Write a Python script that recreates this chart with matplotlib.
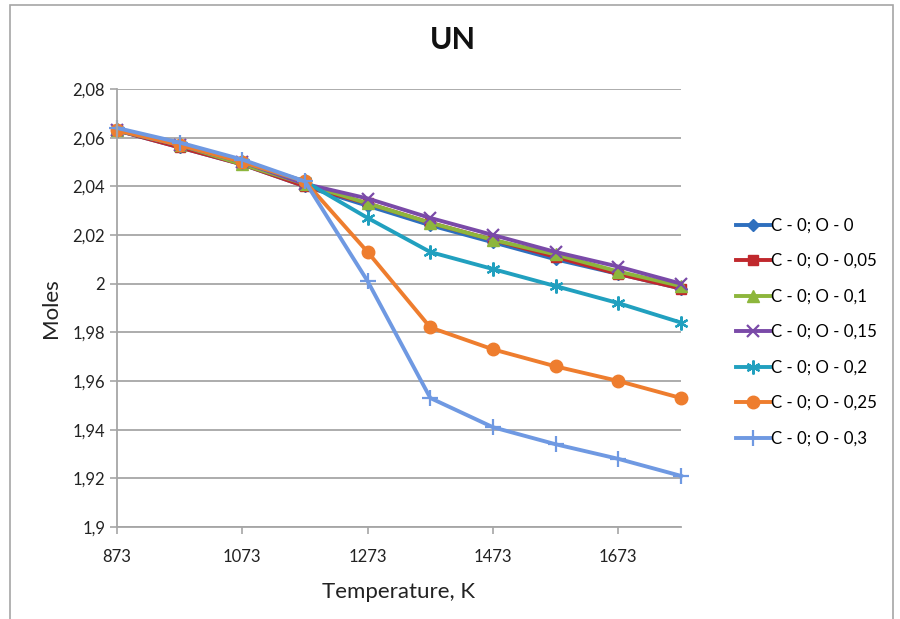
import matplotlib
matplotlib.use("Agg")
from matplotlib import pyplot as plt
from matplotlib.patches import Rectangle
from matplotlib.ticker import FuncFormatter, MultipleLocator

temps = [873, 973, 1073, 1173, 1273, 1373, 1473, 1573, 1673, 1773]

o_0 = [2.063, 2.056, 2.049, 2.040, 2.032, 2.024, 2.017, 2.010, 2.004, 1.998]
o_005 = [2.063, 2.056, 2.049, 2.040, 2.033, 2.025, 2.018, 2.011, 2.004, 1.998]
o_01 = [2.063, 2.057, 2.049, 2.041, 2.033, 2.025, 2.018, 2.012, 2.005, 1.999]
o_015 = [2.063, 2.057, 2.050, 2.041, 2.035, 2.027, 2.020, 2.013, 2.007, 2.000]
o_02 = [2.063, 2.057, 2.050, 2.042, 2.027, 2.013, 2.006, 1.999, 1.992, 1.984]
o_025 = [2.063, 2.057, 2.050, 2.042, 2.013, 1.982, 1.973, 1.966, 1.960, 1.953]
o_03 = [2.064, 2.058, 2.051, 2.042, 2.001, 1.953, 1.941, 1.934, 1.928, 1.921]

labels = ["C - 0; O - 0", "C - 0; O - 0,05", "C - 0; O - 0,1", "C - 0; O - 0,15",
          "C - 0; O - 0,2", "C - 0; O - 0,25", "C - 0; O - 0,3"]

series = [o_0, o_005, o_01, o_015, o_02, o_025, o_03]
colors = ["#2E6FBE", "#C0282D", "#8DB63C", "#7A4AA8", "#21A0BF", "#EE7D2E", "#6F99E2"]
markers = ["D", "s", "^", "x", (6, 2, 0), "o", "+"]
msizes = [6, 7, 8, 8, 10, 9, 11]

plt.rcParams['font.family'] = ['Lato', 'DejaVu Sans']

fig = plt.figure(figsize=(9, 6.19), dpi=100)
fig.patches.append(Rectangle((10 / 900, -0.01), 883 / 900, 1 - 5 / 619 + 0.01,
                             transform=fig.transFigure, fill=False,
                             edgecolor="#A6A6A6", linewidth=1.2))

ax = fig.add_axes([117 / 900, 1 - 527 / 619, (681 - 117) / 900, (527 - 89) / 619])

for ys, lab, c, m, ms in zip(series, labels, colors, markers, msizes):
    ax.plot(temps, ys, color=c, linewidth=2.8, marker=m, markersize=ms,
            markeredgewidth=1.6 if m in ("x", "+") or isinstance(m, tuple) else 1,
            label=lab, clip_on=False)

ax.set_xlim(873, 1773)
ax.set_ylim(1.9, 2.08)
ax.set_xticks([873, 1073, 1273, 1473, 1673])
ax.yaxis.set_major_locator(MultipleLocator(0.02))


def comma_fmt(v, pos):
    s = f"{v:.2f}".rstrip("0").rstrip(".")
    return s.replace(".", ",")


ax.yaxis.set_major_formatter(FuncFormatter(comma_fmt))
ax.grid(axis="y", color="#A6A6A6", linewidth=1.3)
ax.set_axisbelow(True)
for side in ("top", "right"):
    ax.spines[side].set_visible(False)
for side in ("left", "bottom"):
    ax.spines[side].set_color("#A6A6A6")
    ax.spines[side].set_linewidth(1.3)
ax.tick_params(axis="both", colors="#A6A6A6", length=5, width=1.2, labelsize=12,
               labelcolor="#222222")
ax.tick_params(axis="x", pad=11)

ax.set_xlabel("Temperature, K", fontsize=16, color="#222222", labelpad=12)
ax.set_ylabel("Moles", fontsize=16, color="#222222", labelpad=8)

fig.text(0.503, 1 - 40 / 619, "UN", ha="center", va="center", fontsize=22,
         fontweight="bold", color="#111111")

ax.legend(loc="center left", bbox_to_anchor=(728 / 900, 1 - 332 / 619),
          bbox_transform=fig.transFigure, frameon=False,
          handlelength=2.0, handletextpad=0.05, labelspacing=1.15,
          prop={"size": 12.2}, borderpad=0)

fig.savefig("out.png", dpi=100)
